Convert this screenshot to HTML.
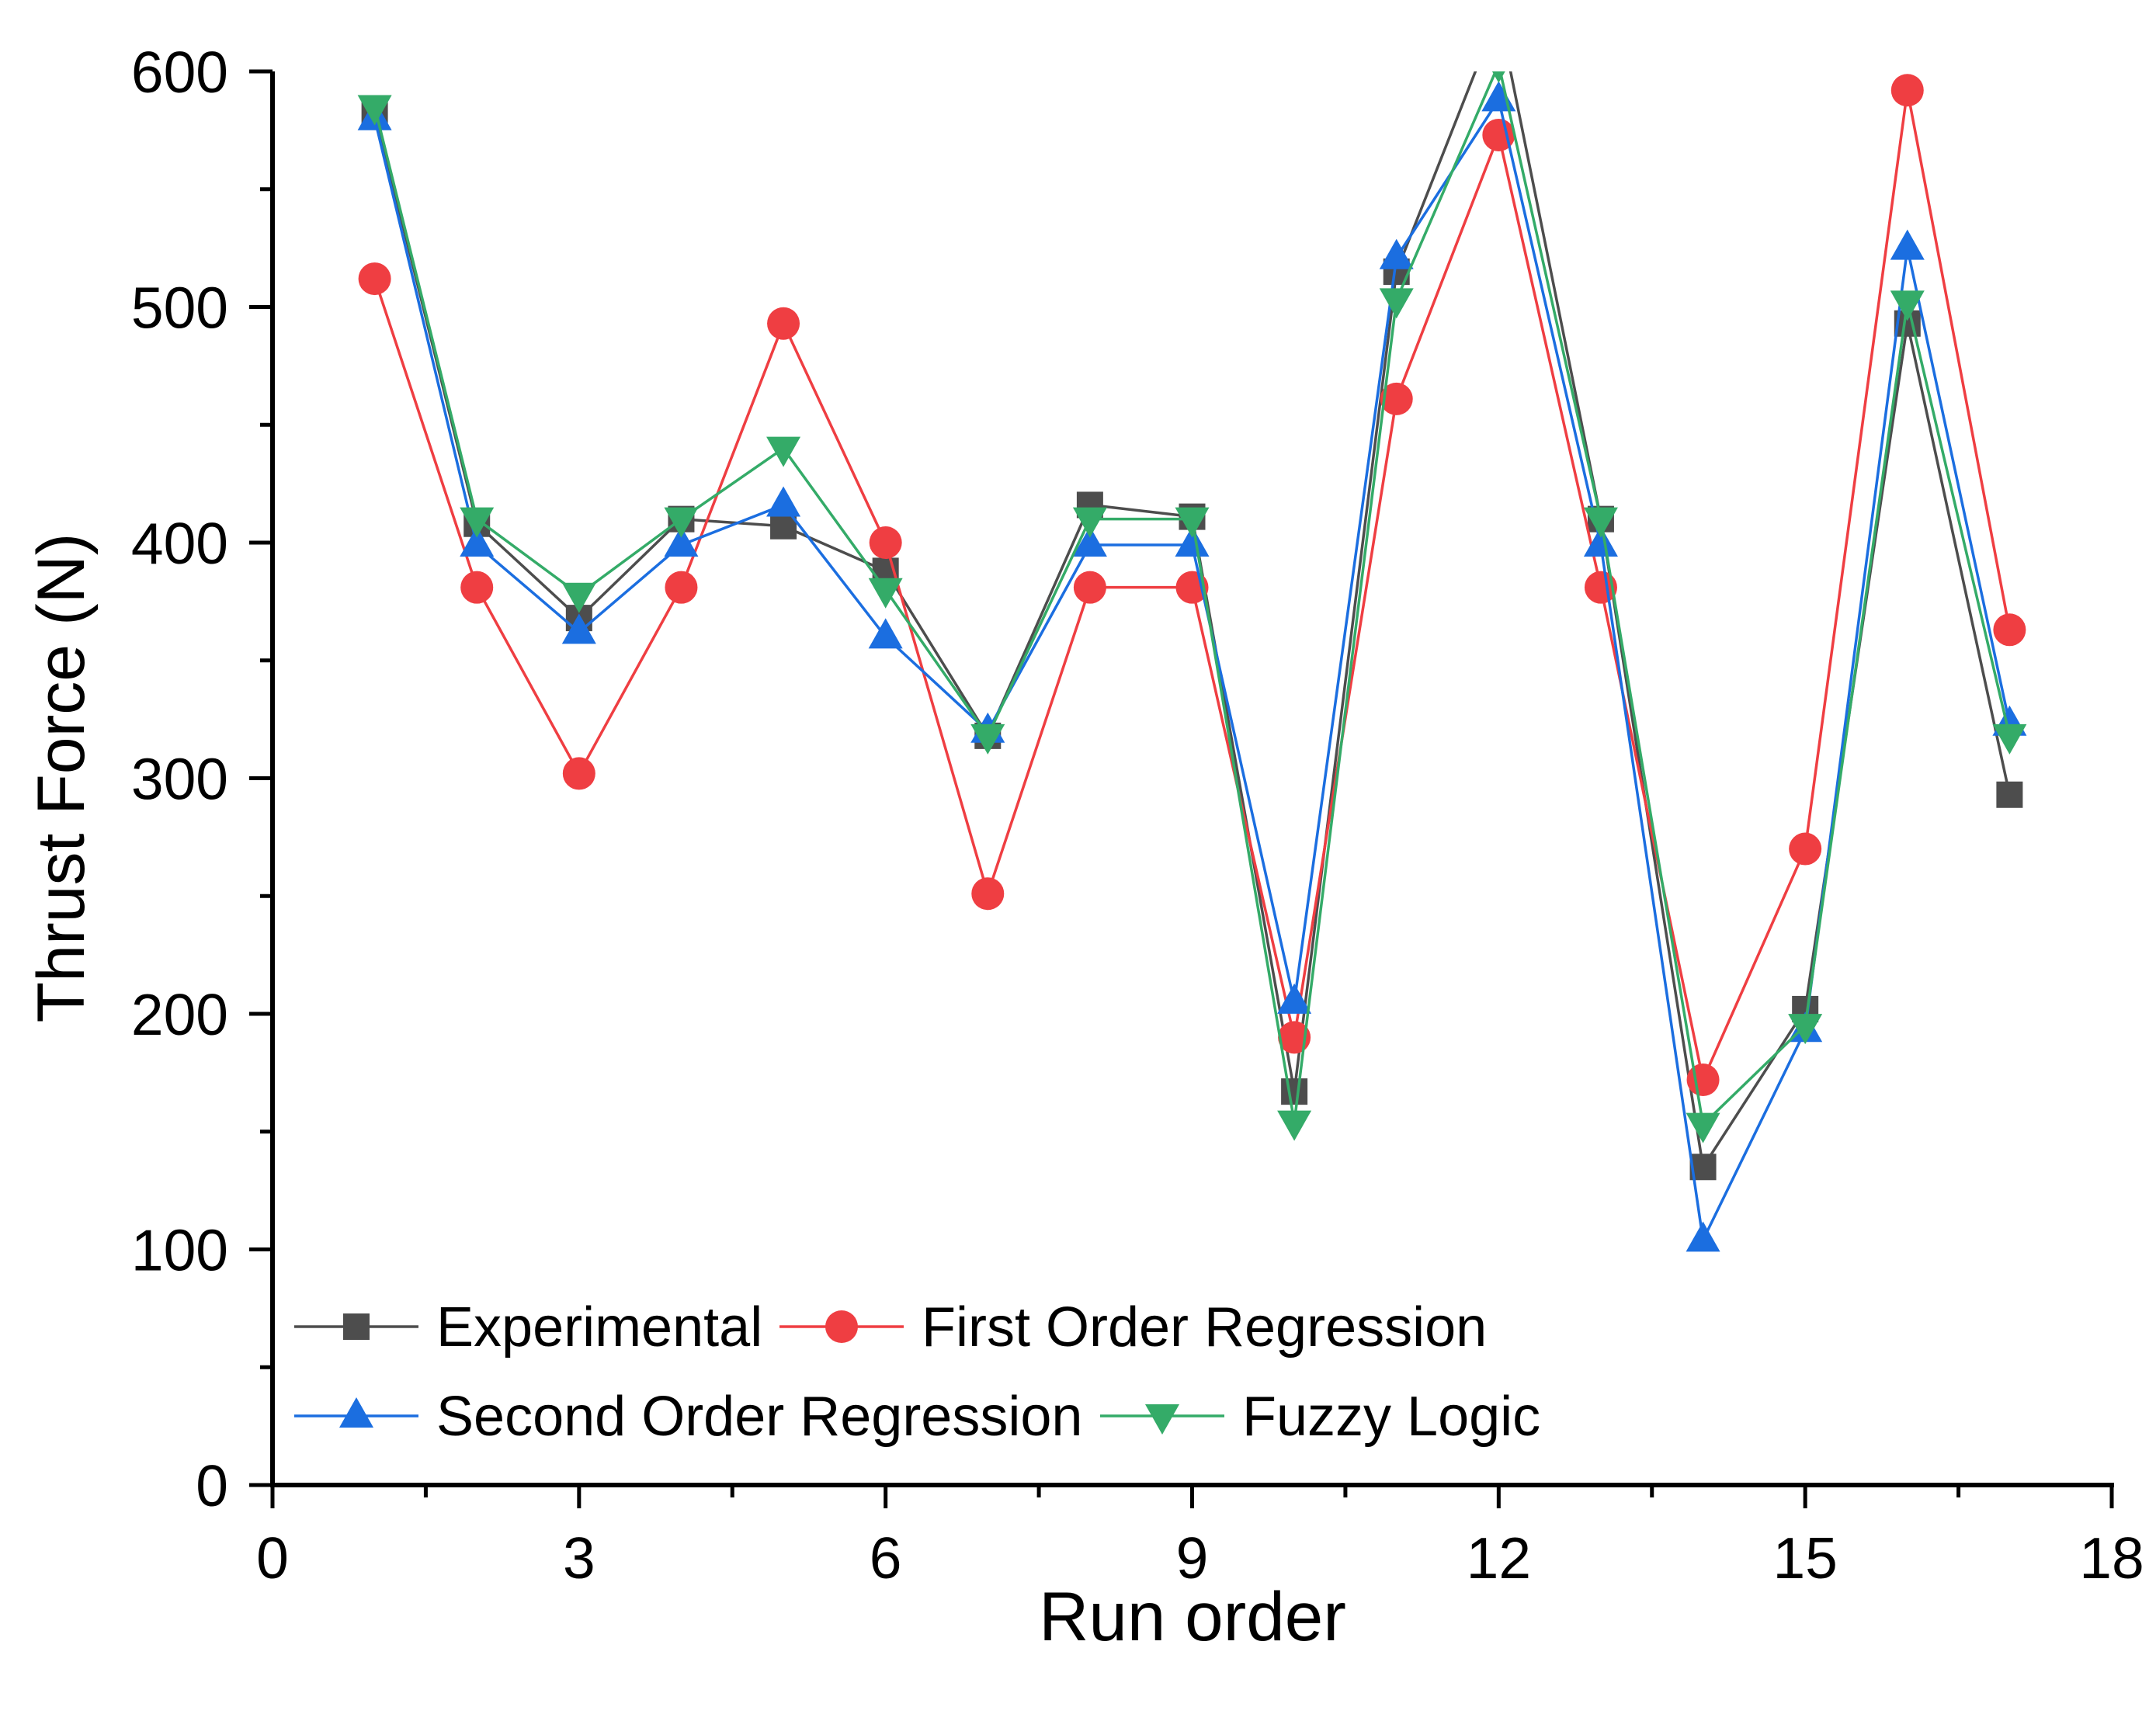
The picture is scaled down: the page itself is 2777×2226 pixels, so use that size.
<!DOCTYPE html>
<html><head><meta charset="utf-8"><style>
html,body{margin:0;padding:0;background:#fff}
svg{display:block;font-family:"Liberation Sans",Arial,sans-serif}
</style></head><body>
<svg id="chart" width="2777" height="2226" viewBox="0 0 2777 2226">
<defs><clipPath id="clip"><rect x="351" y="92" width="2369" height="1821"/></clipPath></defs>
<g id="plot" clip-path="url(#clip)"></g>
<g id="axes"></g>
<g id="legend"></g>
</svg>
<script>
const runs = [1,2,3,4,5,6,7,8,9,10,11,12,13,14,15,16,17];
const experimental = [583,408,368,410,407,388,318,416,411,167,515,625,410,135,202,493,293];
const firstOrder = [512,381,302,381,493,400,251,381,381,190,461,573,381,172,270,592,363];
const secondOrder = [580,399,362,399,416,360,320,399,399,205,521,588,399,104,193,525,323];
const fuzzyLogic = [585,410,378,410,440,380,318,410,410,154,503,603,410,153,195,502,318];
const xTicks = [0,3,6,9,12,15,18];
const yTicks = [0,100,200,300,400,500,600];

const NS='http://www.w3.org/2000/svg';
const X0=351,X1=2720,Y0=1913,Y1=92;
const sx=v=>X0+(v-0)/(18-0)*(X1-X0);
const sy=v=>Y0-(v-0)/(600-0)*(Y0-Y1);
function mk(tag,attrs,parent){const e=document.createElementNS(NS,tag);for(const k in attrs)e.setAttribute(k,attrs[k]);parent.appendChild(e);return e;}
const plot=document.getElementById('plot'),axes=document.getElementById('axes'),legend=document.getElementById('legend');

function marker(type,x,y,color,parent){
  let e;
  if(type==='square'){e=mk('rect',{x:x-17,y:y-17,width:34,height:34,fill:color},parent);}
  else if(type==='circle'){e=mk('circle',{cx:x,cy:y,r:21,fill:color},parent);}
  else if(type==='up'){e=mk('polygon',{points:`${x},${y-24} ${x-22},${y+15} ${x+22},${y+15}`,fill:color},parent);}
  else {e=mk('polygon',{points:`${x},${y+24} ${x-22},${y-15} ${x+22},${y-15}`,fill:color},parent);}
  return e;
}
const series=[
 {name:'Experimental',vals:experimental,color:'#4d4d4d',m:'square',key:'experimental'},
 {name:'First Order Regression',vals:firstOrder,color:'#ef3e42',m:'circle',key:'first-order'},
 {name:'Second Order Regression',vals:secondOrder,color:'#1b6ee0',m:'up',key:'second-order'},
 {name:'Fuzzy Logic',vals:fuzzyLogic,color:'#34ab68',m:'down',key:'fuzzy-logic'}
];
series.forEach(s=>{
  const g=mk('g',{},plot);
  
  
  const pl=mk('polyline',{points:runs.map((r,i)=>sx(r)+','+sy(s.vals[i])).join(' '),fill:'none',stroke:s.color,'stroke-width':3.5},g);
  
  
  runs.forEach((r,i)=>{
    const e=marker(s.m,sx(r),sy(s.vals[i]),s.color,g);
    
    
  });
});

const xl=mk('line',{x1:X0-3,y1:Y0,x2:X1+3,y2:Y0,stroke:'#000','stroke-width':6},axes);


const yl=mk('line',{x1:X0,y1:Y0+3,x2:X0,y2:Y1,stroke:'#000','stroke-width':6},axes);


xTicks.forEach(t=>{
  mk('line',{x1:sx(t),y1:Y0,x2:sx(t),y2:Y0+30,stroke:'#000','stroke-width':5},axes);
  const tx=mk('text',{x:sx(t),y:2033,'font-size':75,'text-anchor':'middle',fill:'#000'},axes);
  tx.textContent=t;
  
  
});
for(let i=0;i<xTicks.length-1;i++){const m=(xTicks[i]+xTicks[i+1])/2;mk('line',{x1:sx(m),y1:Y0,x2:sx(m),y2:Y0+16,stroke:'#000','stroke-width':5},axes);}
yTicks.forEach(t=>{
  mk('line',{x1:X0,y1:sy(t),x2:X0-30,y2:sy(t),stroke:'#000','stroke-width':5},axes);
  const tx=mk('text',{x:294,y:sy(t)+27,'font-size':75,'text-anchor':'end',fill:'#000'},axes);
  tx.textContent=t;
  
  
});
for(let i=0;i<yTicks.length-1;i++){const m=(yTicks[i]+yTicks[i+1])/2;mk('line',{x1:X0,y1:sy(m),x2:X0-16,y2:sy(m),stroke:'#000','stroke-width':5},axes);}
const xt=mk('text',{x:1536,y:2113,'font-size':89,'text-anchor':'middle',fill:'#000'},axes);
xt.textContent='Run order';


const yt=mk('text',{x:0,y:0,'font-size':86,'text-anchor':'middle',fill:'#000',transform:'translate(108,1002) rotate(-90)'},axes);
yt.textContent='Thrust Force (N)';



const lpos=[[379,1709],[1004,1709],[379,1824],[1417,1824]];
series.forEach((s,i)=>{
  const [lx,ly]=lpos[i];
  const g=mk('g',{},legend);
  
  
  mk('line',{x1:lx,y1:ly,x2:lx+160,y2:ly,stroke:s.color,'stroke-width':3.5},g);
  marker(s.m,lx+80,ly,s.color,g);
  const t=mk('text',{x:lx+183,y:ly+25,'font-size':72,fill:'#000'},g);
  t.textContent=s.name;
});
</script>
</body></html>
